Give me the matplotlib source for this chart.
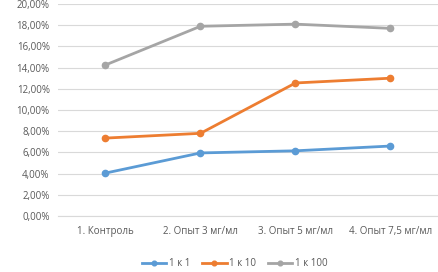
import matplotlib
matplotlib.use("Agg")
import matplotlib.pyplot as plt
from matplotlib.ticker import FuncFormatter

categories = ["1. Контроль", "2. Опыт 3 мг/мл", "3. Опыт 5 мг/мл", "4. Опыт 7,5 мг/мл"]
s1 = [4.05, 5.95, 6.15, 6.6]
s10 = [7.35, 7.8, 12.55, 13.0]
s100 = [14.25, 17.9, 18.1, 17.7]
series_names = ["1 к 1", "1 к 10", "1 к 100"]

plt.rcParams['font.family'] = ['Open Sans', 'DejaVu Sans']
fig = plt.figure(figsize=(4.39, 2.72), dpi=100)
ax = fig.add_axes([58/439, 56/272, 380/439, 212/272])

x = list(range(len(categories)))
colors = ["#5B9BD5", "#ED7D31", "#A5A5A5"]
for vals, name, c in zip([s1, s10, s100], series_names, colors):
    ax.plot(x, vals, color=c, lw=2, marker='o', ms=4.5, label=name)

ax.set_xlim(-0.5, len(categories) - 0.5)
ax.set_ylim(0, 20)
ax.set_yticks(range(0, 21, 2))
ax.yaxis.set_major_formatter(FuncFormatter(lambda v, p: f"{v:.2f}%".replace('.', ',')))
ax.set_xticks(x)
ax.set_xticklabels(categories)
ax.grid(axis='y', color='#D9D9D9', lw=0.8)
ax.set_axisbelow(True)
for s in ['top', 'right', 'left']:
    ax.spines[s].set_visible(False)
ax.spines['bottom'].set_color('#D9D9D9')
ax.tick_params(axis='both', length=0, labelsize=7, colors='#595959', pad=6)
ax.tick_params(axis='x', pad=7)

fig.legend(loc='center', bbox_to_anchor=(235/439, 1 - 264/272), ncol=3, frameon=False,
           fontsize=7, labelcolor='#595959', handlelength=2.5, handletextpad=0.3,
           columnspacing=1.2, markerscale=0.75)
fig.savefig("out.png", dpi=100)
